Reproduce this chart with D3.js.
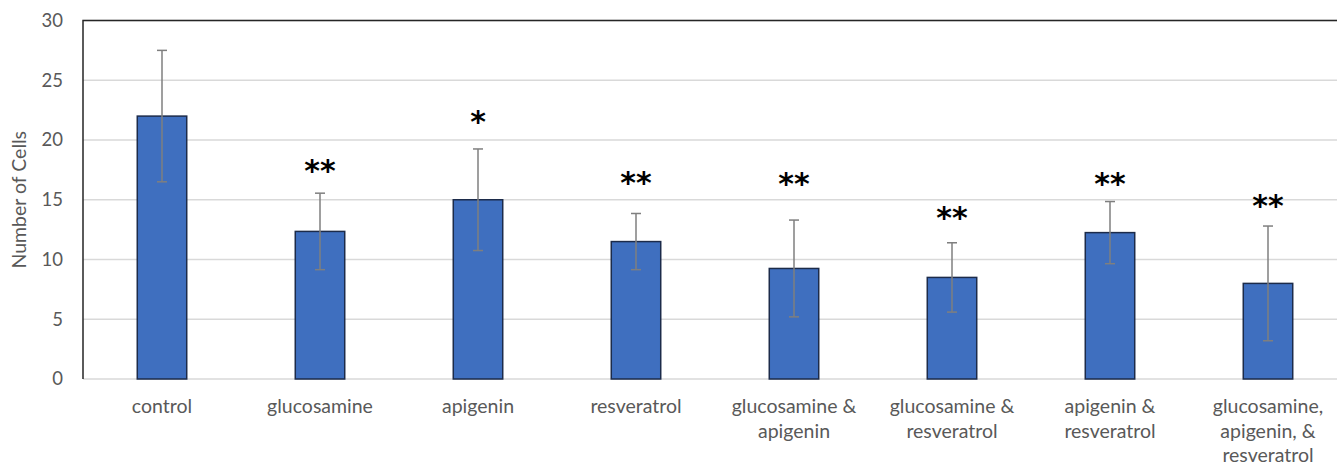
<!DOCTYPE html>
<html>
<head>
<meta charset="utf-8">
<script src="https://cdn.jsdelivr.net/npm/d3@7"></script>
<style>
  html, body { margin: 0; padding: 0; background: #fff; }
  svg { display: block; }
  text { font-family: Lato, "Open Sans", sans-serif; }
</style>
</head>
<body>
<svg id="chart" width="1337" height="465"></svg>
<script>
// Treatment groups (label lines per category)
const categories = [
  "control", "glucosamine", "apigenin", "resveratrol",
  "glucosamine & apigenin", "glucosamine & resveratrol",
  "apigenin & resveratrol", "glucosamine, apigenin, & resveratrol"
];
const labelLines = [
  ["control"], ["glucosamine"], ["apigenin"], ["resveratrol"],
  ["glucosamine &", "apigenin"], ["glucosamine &", "resveratrol"],
  ["apigenin &", "resveratrol"], ["glucosamine,", "apigenin, &", "resveratrol"]
];
// Mean cell counts and their error (±)
const means  = [22, 12.35, 15, 11.5, 9.25, 8.5, 12.25, 8];
const errors = [5.5, 3.2, 4.25, 2.35, 4.05, 2.9, 2.6, 4.8];
// Significance marks and the value height at which each is placed
const marks  = ["", "**", "*", "**", "**", "**", "**", "**"];
const markAt = [0, 17.75, 21.85, 16.75, 16.65, 13.8, 16.65, 14.85];
// Axis ticks
const yTicks = [0, 5, 10, 15, 20, 25, 30];

const svg = d3.select("#chart");
const plotL = 83, plotT = 20.5, plotR = 1347, plotB = 379;

const x = d3.scaleBand()
  .domain(categories)
  .range([plotL, plotR])
  .paddingInner(0.687)
  .paddingOuter(0.687 / 2);

const y = d3.scaleLinear().domain([0, 30]).range([plotB, plotT]);

// Horizontal gridlines
svg.append("g")
  .selectAll("line")
  .data(yTicks)
  .join("line")
  .attr("x1", plotL).attr("x2", plotR)
  .attr("y1", d => y(d)).attr("y2", d => y(d))
  .attr("stroke", "#d9d9d9")
  .attr("stroke-width", 1.5);

// Y axis tick labels
const yAxis = d3.axisLeft(y).tickValues(yTicks).tickSize(0).tickPadding(20);
const gy = svg.append("g").attr("transform", `translate(${plotL},0)`).call(yAxis);
gy.select(".domain").remove();
gy.selectAll("text")
  .attr("fill", "#595959")
  .style("font-size", "18.5px")
  .style("font-family", "Lato, sans-serif");

// Plot frame
svg.append("path")
  .attr("d", `M${plotL},${plotB}V${plotT}H${plotR}V${plotB}`)
  .attr("fill", "none")
  .attr("stroke", "#262626")
  .attr("stroke-width", 1.5);

// Bars
svg.append("g")
  .selectAll("rect")
  .data(categories)
  .join("rect")
  .attr("x", d => x(d))
  .attr("width", x.bandwidth())
  .attr("y", (d, i) => y(means[i]))
  .attr("height", (d, i) => y(0) - y(means[i]))
  .attr("fill", "#3f6fbf")
  .attr("stroke", "#1c2b4a")
  .attr("stroke-width", 1.5);

// Error bars
const eb = svg.append("g").attr("stroke", "#7f7f7f").attr("stroke-width", 1.5);
categories.forEach((c, i) => {
  const cx = x(c) + x.bandwidth() / 2;
  const hi = y(means[i] + errors[i]), lo = y(means[i] - errors[i]);
  eb.append("line").attr("x1", cx).attr("x2", cx).attr("y1", hi).attr("y2", lo);
  eb.append("line").attr("x1", cx - 5).attr("x2", cx + 5).attr("y1", hi).attr("y2", hi);
  eb.append("line").attr("x1", cx - 5).attr("x2", cx + 5).attr("y1", lo).attr("y2", lo);
});

// Significance asterisks
svg.append("g")
  .selectAll("text")
  .data(categories)
  .join("text")
  .attr("x", d => x(d) + x.bandwidth() / 2)
  .attr("y", (d, i) => y(markAt[i]) + 14)
  .attr("text-anchor", "middle")
  .attr("fill", "#000")
  .style("font-size", "30px")
  .style("font-weight", "bold")
  .style("font-family", "'DejaVu Sans', sans-serif")
  .text((d, i) => marks[i]);

// Category labels
const xl = svg.append("g");
categories.forEach((c, i) => {
  const t = xl.append("text")
    .attr("x", x(c) + x.bandwidth() / 2)
    .attr("y", 413)
    .attr("text-anchor", "middle")
    .attr("fill", "#595959")
    .style("font-size", "19.5px");
  labelLines[i].forEach((ln, k) => {
    t.append("tspan")
      .attr("x", x(c) + x.bandwidth() / 2)
      .attr("dy", k === 0 ? 0 : 24.5)
      .text(ln);
  });
});

// Y axis title
svg.append("text")
  .attr("transform", `translate(26,${(plotT + plotB) / 2}) rotate(-90)`)
  .attr("text-anchor", "middle")
  .attr("fill", "#595959")
  .style("font-size", "19.5px")
  .text("Number of Cells");
</script>
</body>
</html>
